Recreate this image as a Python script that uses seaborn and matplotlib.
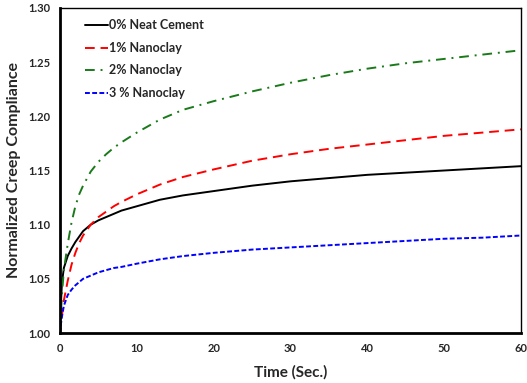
import matplotlib
matplotlib.use("Agg")
import matplotlib.pyplot as plt
import seaborn as sns
import pandas as pd

time_s = [0, 0.1, 0.25, 0.5, 1, 1.5, 2, 2.5, 3, 4, 5, 6, 7, 8, 10, 13, 16, 20, 25, 30, 35, 40, 45, 50, 55, 60]
neat_cement = [1.000, 1.024, 1.046, 1.060, 1.071, 1.078, 1.084, 1.089, 1.094, 1.100, 1.104, 1.107, 1.110,
               1.113, 1.117, 1.123, 1.127, 1.131, 1.136, 1.140, 1.143, 1.146, 1.148, 1.150, 1.152, 1.154]
nanoclay_1 = [1.000, 1.008, 1.016, 1.030, 1.048, 1.063, 1.074, 1.083, 1.090, 1.100, 1.107, 1.112, 1.117,
              1.121, 1.128, 1.137, 1.144, 1.151, 1.159, 1.165, 1.170, 1.174, 1.178, 1.182, 1.185, 1.188]
nanoclay_2 = [1.000, 1.015, 1.035, 1.058, 1.082, 1.102, 1.117, 1.128, 1.136, 1.149, 1.158, 1.165, 1.171,
              1.176, 1.185, 1.197, 1.206, 1.214, 1.223, 1.231, 1.238, 1.244, 1.249, 1.253, 1.257, 1.261]
nanoclay_3 = [1.000, 1.007, 1.015, 1.025, 1.035, 1.040, 1.044, 1.047, 1.050, 1.053, 1.056, 1.058, 1.060,
              1.061, 1.064, 1.068, 1.071, 1.074, 1.077, 1.079, 1.081, 1.083, 1.085, 1.087, 1.088, 1.090]
series_labels = ["0% Neat Cement", "1% Nanoclay", "2% Nanoclay", "3 % Nanoclay"]
x_ticks = [0, 10, 20, 30, 40, 50, 60]
y_ticks = [1.00, 1.05, 1.10, 1.15, 1.20, 1.25, 1.30]

sns.set_style("white")
plt.rcParams['font.family'] = ['Lato', 'DejaVu Sans']
plt.rcParams['font.weight'] = 'bold'

fig = plt.figure(figsize=(5.27, 3.83), dpi=100)
ax = fig.add_axes([60/527, 1 - 333/383, 461/527, 325/383])

styles = [
    dict(color="black", linestyle="-"),
    dict(color="#ff0000", linestyle=(0, (5, 3))),
    dict(color="#1a7a1a", linestyle=(0, (5, 3, 1, 3))),
    dict(color="#0000ff", linestyle=(0, (2.5, 1.2))),
]
for vals, lab, st in zip([neat_cement, nanoclay_1, nanoclay_2, nanoclay_3], series_labels, styles):
    df = pd.DataFrame({"t": time_s, "v": vals})
    sns.lineplot(data=df, x="t", y="v", ax=ax, label=lab, linewidth=1.4, **st)

ax.set_xlim(0, 60)
ax.set_ylim(1.0, 1.3)
ax.set_xticks(x_ticks)
ax.set_yticks(y_ticks)
ax.set_xticklabels([str(v) for v in x_ticks], fontsize=8, fontweight='bold')
ax.set_yticklabels([f"{v:.2f}" for v in y_ticks], fontsize=8, fontweight='bold')
ax.tick_params(direction='inout', length=6, width=1.2, color='black', pad=4)
ax.set_xlabel("Time (Sec.)", fontsize=11, fontweight='bold', labelpad=8)
ax.set_ylabel("Normalized Creep Compliance", fontsize=11.5, fontweight='bold', labelpad=5)

for side in ["left", "bottom"]:
    ax.spines[side].set_linewidth(2)
    ax.spines[side].set_color("black")
for side in ["top", "right"]:
    ax.spines[side].set_linewidth(1)
    ax.spines[side].set_color("black")

leg = ax.legend(loc="upper left", bbox_to_anchor=(0.03, 1.0), frameon=False,
                fontsize=9, handlelength=1.8, handletextpad=0.15, labelspacing=0.85)
for txt in leg.get_texts():
    txt.set_fontweight('bold')

fig.savefig("out.png", dpi=100)
